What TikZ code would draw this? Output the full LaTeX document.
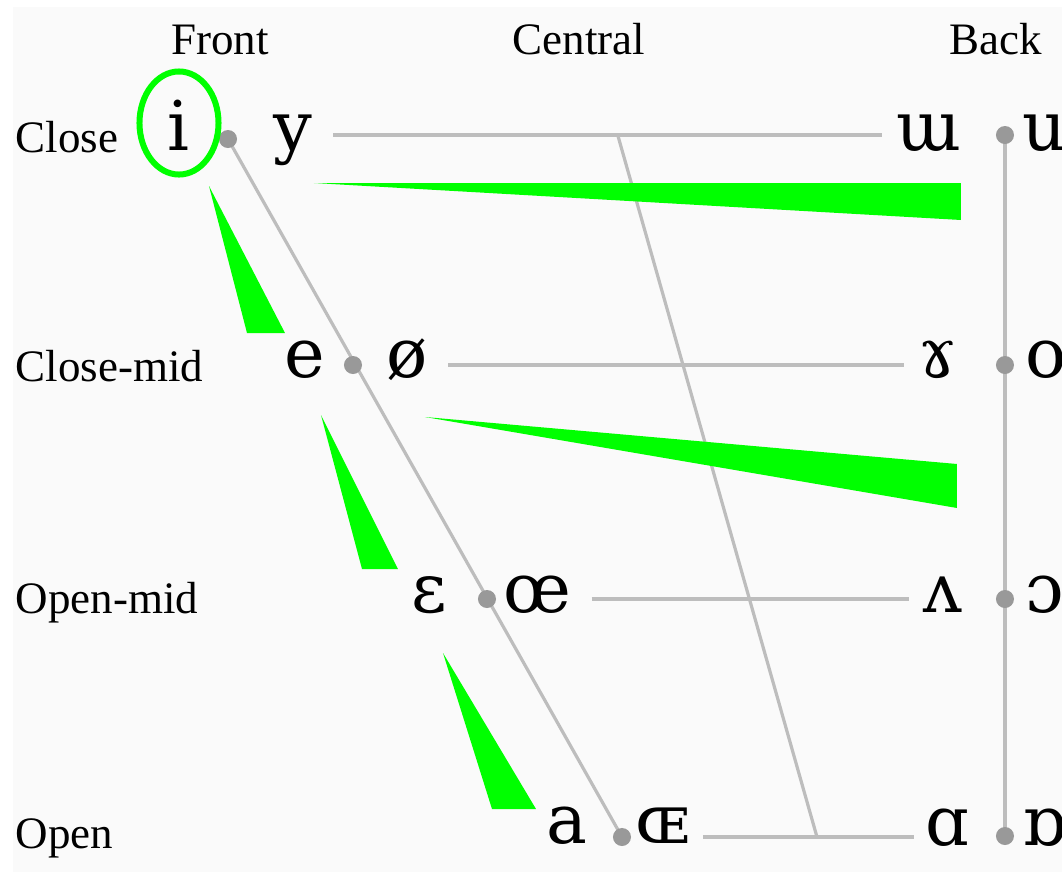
\documentclass[tikz,border=0pt]{standalone}
\usepackage{fontspec}
\setmainfont{Liberation Serif}
\newfontfamily\ipafont{DejaVu Serif}
\usetikzlibrary{shapes.geometric,backgrounds}
\definecolor{paperbg}{HTML}{FAFAFA}
\definecolor{chartgray}{HTML}{BDBDBD}
\definecolor{dotgray}{HTML}{999999}
\definecolor{markgreen}{HTML}{00FF00}
\tikzset{
  axislabel/.style={
    font=\fontsize{12.8pt}{14pt}\selectfont,
    inner sep=0pt,
    anchor=base
  },
  rowlabel/.style={axislabel, anchor=base west},
  vowel/.style={
    font=\ipafont\fontsize{19.5pt}{22pt}\selectfont,
    inner sep=0pt,
    anchor=base
  },
  vdot/.style={circle, fill=dotgray, inner sep=0pt, minimum size=0.18cm},
  chartline/.style={draw=chartgray, line width=0.032cm},
  rowline/.style={chartline, shorten <=0.2cm, shorten >=0.14cm},
  wedge/.style={fill=markgreen},
  ring/.style={
    draw=markgreen,
    ellipse,
    line width=0.06cm,
    inner sep=0pt,
    minimum width=0.79cm,
    minimum height=1.03cm
  }
}

\begin{document}
\begin{tikzpicture}[x=0.01cm, y=-0.01cm]
  \useasboundingbox (0,0) rectangle (1062,872);
  % column and row labels
  \node[axislabel] (front) at (220,54) {Front};
  \node[axislabel] (central) at (579,54) {Central};
  \node[axislabel] (back) at (996,54) {Back};
  \node[rowlabel] (close) at (15,152) {Close};
  \node[rowlabel] (closemid) at (15,381) {Close-mid};
  \node[rowlabel] (openmid) at (15,613) {Open-mid};
  \node[rowlabel] (open) at (15,848) {Open};
  % dots
  \node[vdot] (f1) at (228,139) {};
  \node[vdot] (f2) at (353,365) {};
  \node[vdot] (f3) at (487,599) {};
  \node[vdot] (f4) at (622,837) {};
  \node[vdot] (b1) at (1005,135) {};
  \node[vdot] (b2) at (1005,365) {};
  \node[vdot] (b3) at (1005,599) {};
  \node[vdot] (b4) at (1005,836) {};
  % vowels
  \node[vowel] (i) at (178,150) {i};
  \node[vowel] (y) at (293,150) {y};
  \node[vowel] (turnedm) at (929,150) {ɯ};
  \node[vowel] (u) at (1045,150) {u};
  \node[vowel] (e) at (305,377) {e};
  \node[vowel] (oslash) at (407,377) {ø};
  \node[vowel] (ramshorn) at (938,377) {ɤ};
  \node[vowel] (o) at (1046,377) {o};
  \node[vowel] (epsilon) at (429,612) {ɛ};
  \node[vowel] (oe) at (537,612) {œ};
  \node[vowel] (wedgev) at (943,612) {ʌ};
  \node[vowel] (openo) at (1045,612) {ɔ};
  \node[vowel] (a) at (567,843) {a};
  \node[vowel] (smalloe) at (663,843) {ɶ};
  \node[vowel] (alpha) at (947,845) {ɑ};
  \node[vowel] (turnedalpha) at (1044,845) {ɒ};
  \node[ring] (ring) at (179,123) {};
  \coordinate (ctop) at (618,136);
  \coordinate (cbot) at (817,837);
  % grid lines behind everything
  \begin{scope}[on background layer]
    \fill[paperbg] (13,7) rectangle (1062,872);
    \draw[chartline] (f1.center) -- (f4.center);
    \draw[chartline] (b1.center) -- (b4.center);
    \draw[chartline] (ctop) -- (cbot);
    \draw[rowline] (y.east |- b1) -- (turnedm.west |- b1);
    \draw[rowline] (oslash.east |- b2) -- (ramshorn.west |- b2);
    \draw[rowline] (oe.east |- b3) -- (wedgev.west |- b3);
    \draw[chartline, shorten <=0.12cm, shorten >=0.1cm] (smalloe.east |- f4) -- (alpha.west |- f4);
  \end{scope}
  % green wedges
  \fill[wedge] (209,186) -- (247,333) -- (285,333) -- cycle;
  \fill[wedge] (314,183) -- (961,183) -- (961,220) -- cycle;
  \fill[wedge] (321,415) -- (362,569) -- (398,569) -- cycle;
  \fill[wedge] (425,417) -- (957,464) -- (957,508) -- cycle;
  \fill[wedge] (443,653) -- (492,809) -- (536,809) -- cycle;
\end{tikzpicture}
\end{document}
